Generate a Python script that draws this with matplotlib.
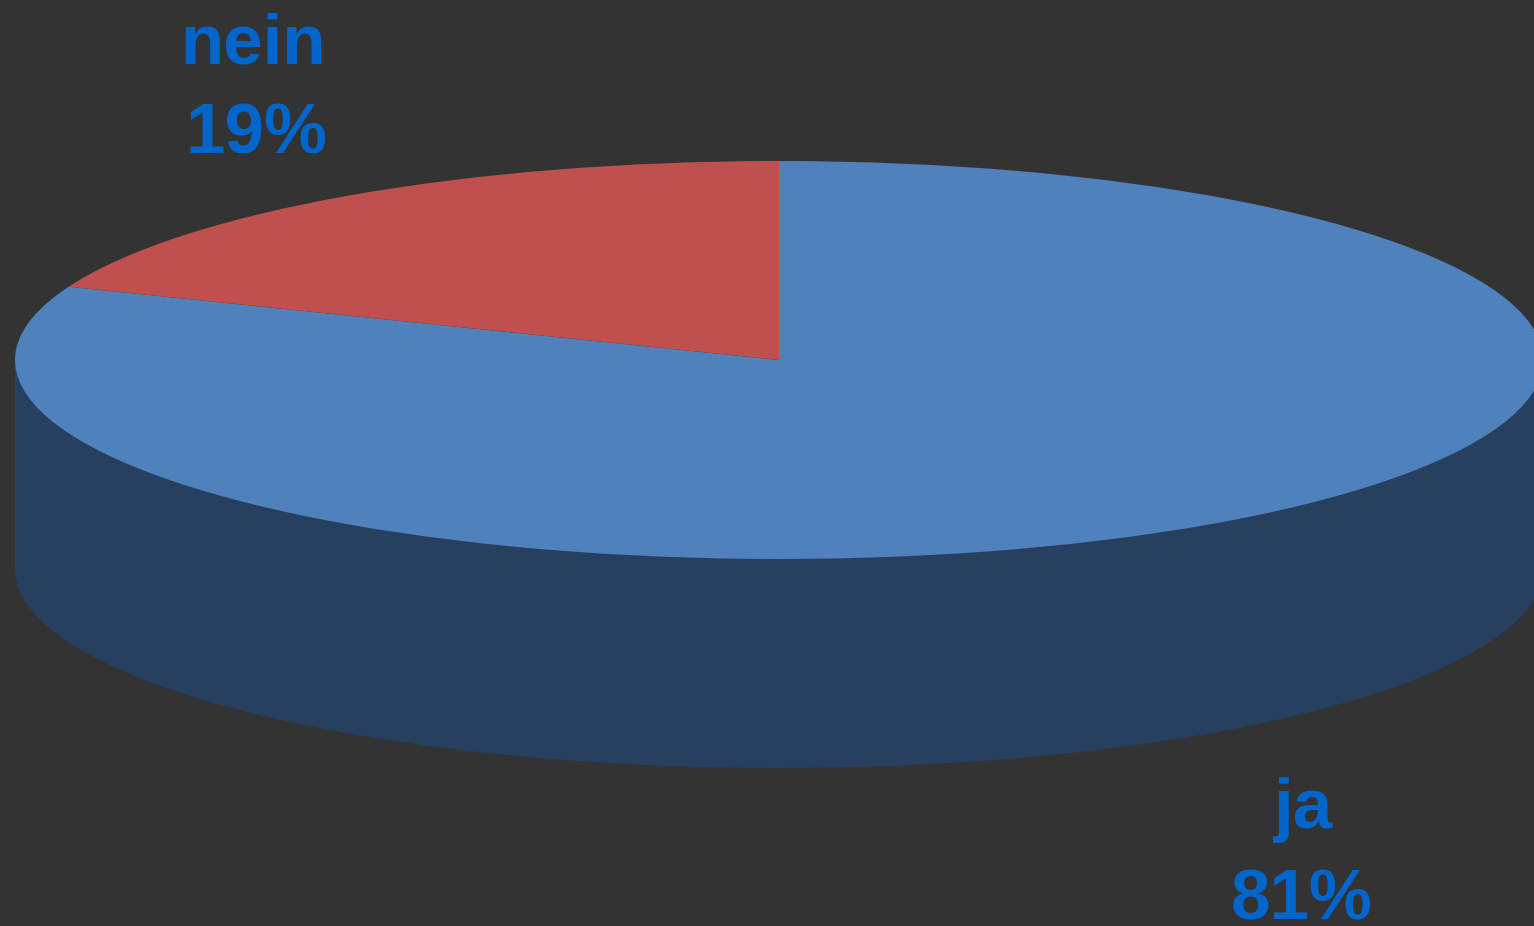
import matplotlib
matplotlib.use("Agg")
from matplotlib import pyplot as plt
from matplotlib.patches import Rectangle

labels = ["ja", "nein"]
values = [81, 19]

BG = "#333333"
TOP = ["#4f81bd", "#c0504d"]
SIDE = "#27405f"
TEXT = "#0066cc"

W, H = 1534, 926
fig = plt.figure(figsize=(W / 100, H / 100), dpi=100, facecolor=BG)
ax = fig.add_axes([0, 0, 1, 1])

# pie of unit radius, squashed by the axes limits to get the tilted look
rx, ry = 764, 199
cx, cy = 779, 360
depth = 209 / ry

ax.pie(values, colors=[SIDE, SIDE], startangle=90, counterclock=False,
       center=(0, -depth), radius=1, frame=True)
ax.add_patch(Rectangle((-1, -depth), 2, depth, color=SIDE, lw=0))
ax.pie(values, colors=TOP, startangle=90, counterclock=False,
       center=(0, 0), radius=1, frame=True)

ax.set_aspect("auto")
ax.set_xlim(-cx / rx, (W - cx) / rx)
ax.set_ylim(-(H - cy) / ry, cy / ry)
ax.axis("off")


# data labels, positions given in pixels from the top left
def etiqueta(x, y, s):
    fig.text(x / W, 1 - y / H, s, family="Liberation Sans", weight="bold",
             fontsize=51, color=TEXT, ha="center", va="center")


etiqueta(253, 45, labels[1])
etiqueta(256, 136, f"{values[1]}%")
etiqueta(1303, 810, labels[0])
etiqueta(1302, 901, f"{values[0]}%")

fig.savefig("out.png", dpi=100, facecolor=BG)
